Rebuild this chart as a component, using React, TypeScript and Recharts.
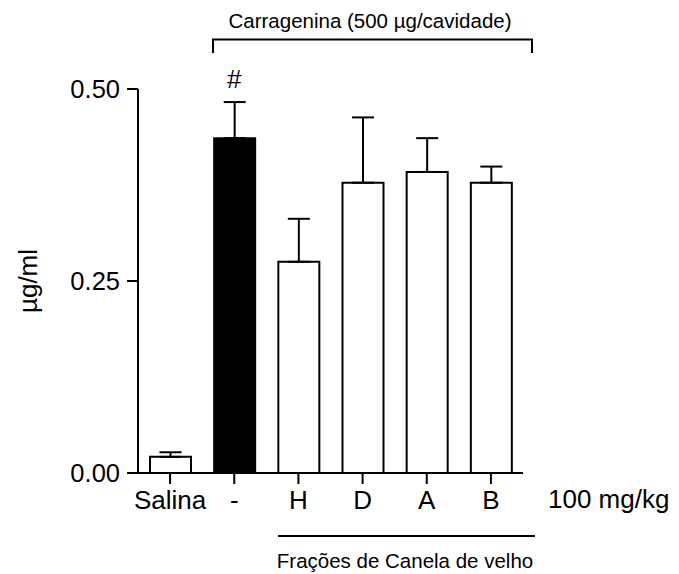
import { BarChart, Bar, XAxis, YAxis, Cell, ErrorBar } from "recharts";

const groups = ["Salina", "-", "H", "D", "A", "B"];
const means = [0.021, 0.436, 0.275, 0.378, 0.392, 0.378];
const sems = [0.006, 0.047, 0.056, 0.085, 0.044, 0.021];
const yTicks = [0, 0.25, 0.5];
const controlGroup = "-";

const data = groups.map((g, i) => ({
  group: g,
  mean: means[i],
  err: [0, sems[i]],
}));

const W = 679;
const H = 574;
const TOP = 89;
const BOTTOM = 473;
const LEFT = 138;
const RIGHT = 523;
const FONT = "'Liberation Sans', Arial, Helvetica, sans-serif";

const yPix = (v: number) => BOTTOM - (v / 0.5) * (BOTTOM - TOP);
const band = (RIGHT - LEFT) / groups.length;
const xCenter = (i: number) => LEFT + band * (i + 0.5);

export default function App() {
  const ci = groups.indexOf(controlGroup);
  return (
    <div style={{ position: "relative", width: W, height: H, fontFamily: FONT }}>
      <style>{"body{margin:0;background:#fff}"}</style>
      <BarChart
        width={W}
        height={H}
        data={data}
        margin={{ top: TOP, right: W - RIGHT, bottom: 0, left: 0 }}
        barSize={41}
      >
        <XAxis
          dataKey="group"
          height={H - BOTTOM}
          axisLine={{ stroke: "#000", strokeWidth: 2 }}
          tickLine={{ stroke: "#000", strokeWidth: 2 }}
          tickSize={11}
          tickMargin={7}
          tick={{ fill: "#000", fontSize: 26, fontFamily: FONT }}
          interval={0}
        />
        <YAxis
          width={LEFT}
          domain={[0, 0.5]}
          ticks={yTicks}
          tickFormatter={(v: number) => v.toFixed(2)}
          axisLine={{ stroke: "#000", strokeWidth: 2 }}
          tickLine={{ stroke: "#000", strokeWidth: 2 }}
          tickSize={11}
          tickMargin={7}
          tick={{ fill: "#000", fontSize: 25.5, fontFamily: FONT }}
        />
        <Bar dataKey="mean" stroke="#000" strokeWidth={2} isAnimationActive={false}>
          {data.map((d) => (
            <Cell key={d.group} fill={d.group === controlGroup ? "#000" : "#fff"} />
          ))}
          <ErrorBar
            dataKey="err"
            width={11}
            stroke="#000"
            strokeWidth={2}
            direction="y"
            isAnimationActive={false}
          />
        </Bar>
      </BarChart>
      <svg
        width={W}
        height={H}
        style={{ position: "absolute", left: 0, top: 0, pointerEvents: "none" }}
        fontFamily={FONT}
      >
        <text x={370} y={28} fontSize={20.5} textAnchor="middle" fill="#000">
          Carragenina (500 µg/cavidade)
        </text>
        <path d="M213,53 V39.5 H532 V53" fill="none" stroke="#000" strokeWidth={2} />
        <text
          x={xCenter(ci)}
          y={yPix(means[ci] + sems[ci]) - 14}
          fontSize={26}
          textAnchor="middle"
          fill="#000"
        >
          #
        </text>
        <text x={548} y={508} fontSize={26} fill="#000">
          100 mg/kg
        </text>
        <line x1={278} x2={535} y1={536} y2={536} stroke="#000" strokeWidth={2} />
        <text x={405} y={568} fontSize={20.5} textAnchor="middle" fill="#000">
          Frações de Canela de velho
        </text>
        <text
          transform="translate(37,281) rotate(-90)"
          fontSize={26}
          textAnchor="middle"
          fill="#000"
        >
          µg/ml
        </text>
      </svg>
    </div>
  );
}
